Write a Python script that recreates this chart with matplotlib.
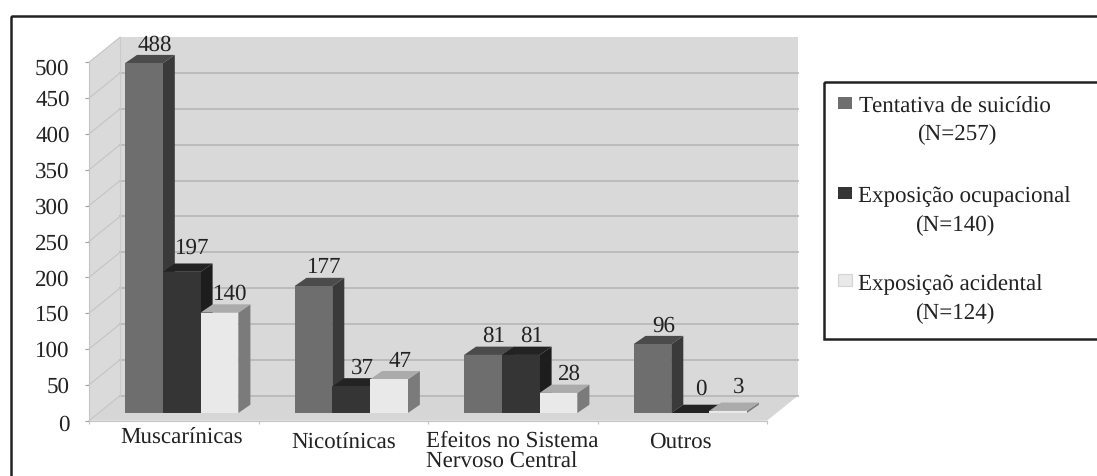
import matplotlib
matplotlib.use("Agg")
import matplotlib.pyplot as plt
from matplotlib.patches import Rectangle
from matplotlib.transforms import ScaledTranslation

plt.rcParams['font.family'] = ['Liberation Serif', 'DejaVu Serif']
plt.rcParams['text.hinting'] = 'no_hinting'
plt.rcParams['text.hinting_factor'] = 1

categories = ['Muscarínicas', 'Nicotínicas', 'Efeitos no Sistema\nNervoso Central', 'Outros']
tentativa = [488, 177, 81, 96]
ocupacional = [197, 37, 81, 0]
acidental = [140, 47, 28, 3]
yticks = [0, 50, 100, 150, 200, 250, 300, 350, 400, 450, 500]

legend_names = ['Tentativa de suicídio', 'Exposição ocupacional', 'Exposiçaõ acidental']
legend_counts = ['(N=257)', '(N=140)', '(N=124)']

W, H = 1097, 476
TXT = '#222222'
FS = 16.4

# front, top, side
series_cols = [('#6e6e6e', '#4b4b4b', '#3a3a3a'),
               ('#353535', '#232323', '#1d1d1d'),
               ('#e9e9e9', '#ababab', '#7b7b7b')]

fig = plt.figure(figsize=(W / 100, H / 100), dpi=100, facecolor='white')

# overlay in pixels for frame and legend
over = fig.add_axes([0, 0, 1, 1], zorder=5)
over.set_xlim(0, W)
over.set_ylim(H, 0)
over.axis('off')
over.patch.set_alpha(0)

ax = fig.add_axes([89 / W, (H - 420.7) / H, 678 / W, 358.4 / H])
ax.set_xlim(0, 4)
ax.set_ylim(0, 500)
ax.patch.set_alpha(0)

PX = 4 / 678       # data x per pixel
PY = 500 / 358.4   # data y per pixel

wall_dx, wall_dy = 31 * PX, 25 * PY
plane_dx, plane_dy = 9 * PX, 7.7 * PY
bar_dx, bar_dy = 12 * PX, 8.3 * PY
bar_w = 37.8 * PX
bar_start = 27 * PX

WALL = '#d9d9d9'
GRID = '#b9b9b9'

# walls and floor
back_x = 4 + wall_dx
ax.fill([wall_dx, back_x, back_x, wall_dx],
        [wall_dy, wall_dy, 500 + wall_dy, 500 + wall_dy], color=WALL, lw=0, clip_on=False, zorder=1)
ax.fill([0, wall_dx, wall_dx, 0], [0, wall_dy, 500 + wall_dy, 500], color='#dadada', lw=0, clip_on=False, zorder=1)
ax.fill([0, 4, back_x, wall_dx], [0, 0, wall_dy, wall_dy],
        color='#d6d6d6', lw=0, clip_on=False, zorder=1)
for v in yticks:
    if v < 500:
        ax.plot([wall_dx, back_x], [v + wall_dy, v + wall_dy], color=GRID, lw=1.3,
                clip_on=False, zorder=2)
    ax.plot([0, wall_dx], [v, v + wall_dy], color='#c4c4c4', lw=0.8, clip_on=False, zorder=2)
ax.plot([wall_dx, wall_dx], [wall_dy, 500 + wall_dy], color='#cacaca', lw=0.8, clip_on=False, zorder=2)

# bars, left to right so the next front covers the side before it
z = 3
for g in range(len(categories)):
    for s, vals in enumerate([tentativa, ocupacional, acidental]):
        v = vals[g]
        front, top, side = series_cols[s]
        x0 = g + bar_start + plane_dx + s * bar_w
        x1 = x0 + bar_w
        y0 = plane_dy
        y1 = plane_dy + v
        ax.fill([x1, x1 + bar_dx, x1 + bar_dx, x1], [y0, y0 + bar_dy, y1 + bar_dy, y1],
                color=side, lw=0, clip_on=False, zorder=z)
        ax.fill([x0, x1, x1 + bar_dx, x0 + bar_dx], [y1, y1, y1 + bar_dy, y1 + bar_dy],
                color=top, lw=0, clip_on=False, zorder=z)
        ax.fill([x0, x1, x1, x0], [y0, y0, y1, y1], color=front, lw=0, clip_on=False, zorder=z)
        lift = 15 if (g, s) == (0, 1) else 15 if v < 5 else 10
        ax.annotate(str(v), (x0 + bar_w / 2 + bar_dx / 2, y1 + bar_dy), xytext=(5, lift),
                    textcoords='offset pixels', ha='center', va='center', fontsize=FS,
                    color=TXT, annotation_clip=False, zorder=40)
        z += 1

# axes
for k in ['top', 'right']:
    ax.spines[k].set_visible(False)
for k in ['left', 'bottom']:
    ax.spines[k].set_color('#c4c4c4')
    ax.spines[k].set_linewidth(0.8)
ax.set_yticks(yticks)
ax.set_yticklabels([str(v) for v in yticks], fontsize=FS, color=TXT)
ax.tick_params(axis='y', length=3, width=0.8, color='#a0a0a0', pad=11)
ax.set_xticks(range(5))
ax.set_xticklabels([])
ax.tick_params(axis='x', length=2.5, width=0.8, color='#c4c4c4')

# 0 and 500 sit a little lower than their ticks in the original
tick_labels = ax.get_yticklabels()
for lab, shift in [(tick_labels[0], -2), (tick_labels[-1], -5)]:
    lab.set_transform(lab.get_transform() + ScaledTranslation(0, shift / 100, fig.dpi_scale_trans))

cat_dx = [8, 0, -87, -2]
cat_dy = [-17, -22, -31, -22]
cat_ha = ['center', 'center', 'left', 'center']
for i, name in enumerate(categories):
    ax.annotate(name, (i + 0.5, 0), xytext=(cat_dx[i], cat_dy[i]), textcoords='offset pixels',
                ha=cat_ha[i], va='center', fontsize=FS, color=TXT, linespacing=1.0,
                annotation_clip=False)

# outer frame and legend box
over.add_patch(Rectangle((10.5, 16), W, H, fill=False, ec='#222222', lw=1.8))
over.add_patch(Rectangle((824, 82), W, 257, fill=False, ec='#222222', lw=1.8))

mark_y = [97, 187, 274]
name_x = [955, 964, 950]
name_y = [106, 197, 285]
count_x = [958, 956, 956]
count_y = [135, 226, 314]
for i in range(3):
    over.add_patch(Rectangle((838, mark_y[i]), 14, 12, fc=series_cols[i][0],
                             ec='#d4d4d4' if i == 2 else 'none', lw=0.8))
    over.text(name_x[i], name_y[i], legend_names[i], ha='center', va='center', fontsize=FS, color=TXT)
    over.text(count_x[i], count_y[i], legend_counts[i], ha='center', va='center', fontsize=FS, color=TXT)

fig.savefig('out.png', dpi=100)
